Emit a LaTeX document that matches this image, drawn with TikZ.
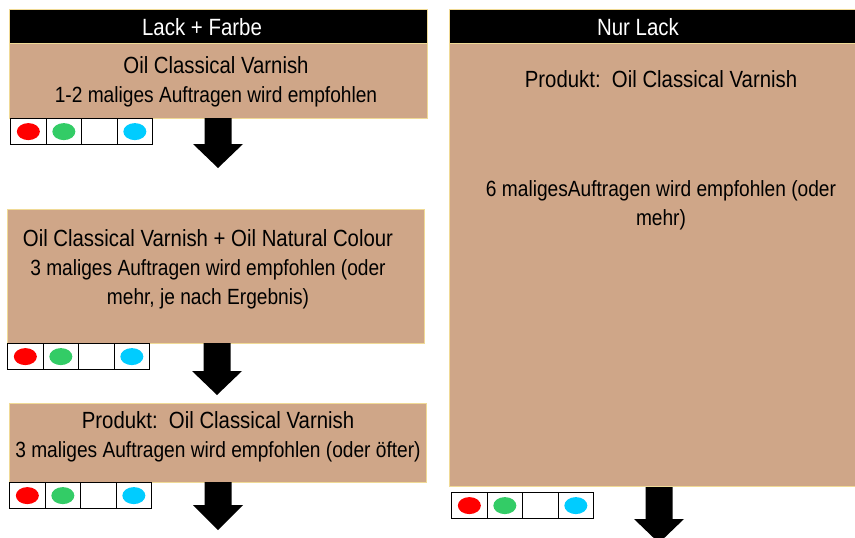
\documentclass[tikz,border=0pt]{standalone}
\usepackage{fontspec}
\setmainfont{Liberation Sans}[FakeStretch=0.87]
\usepackage{tikz}
\definecolor{hellbraun}{RGB}{207,166,136}
\definecolor{rand}{RGB}{240,218,150}
\definecolor{rot}{RGB}{255,0,0}
\definecolor{gruen}{RGB}{51,204,102}
\definecolor{blau}{RGB}{0,204,255}
\newcommand{\titelgr}{\fontsize{23.4}{29}\selectfont}

\begin{document}
\begin{tikzpicture}[x=1pt,y=-1pt,
	kopf/.style={fill=black,draw=rand,anchor=north west,inner sep=0pt},
	kopftext/.style={text=white,anchor=base,inner sep=0pt,font=\fontsize{23.5}{28}\selectfont},
	feld/.style={fill=hellbraun,draw=rand,line width=1.2pt,anchor=north west,inner sep=0pt},
	txt/.style={align=center,anchor=base,inner sep=0pt,font=\fontsize{22}{29}\selectfont},
	zelle/.style={draw=black,fill=white,line width=1.2pt,minimum width=35.5pt,minimum height=26pt,inner sep=0pt,anchor=north west}]
			\useasboundingbox (0,0) rectangle (855,538);
			
			%Kopfzeilen
			\node[kopf, minimum width=418pt, minimum height=34pt] (kopfL) at (9,9) {};
			\node[kopftext] (kopfLtext) at (202,35) {Lack + Farbe};
			\node[kopf, minimum width=415pt, minimum height=34pt] (kopfR) at (449,9) {};
			\node[kopftext] (kopfRtext) at (638,35) {Nur Lack};
			
			%Lack + Farbe (Anker = letzte Zeile)
			\node[feld, minimum width=418pt, minimum height=75pt] (feld1) at (9,43) {};
			\node[txt] (text1) at (216,102) {{\titelgr Oil Classical Varnish}\\1-2 maliges Auftragen wird empfohlen};
			
			\node[feld, minimum width=417pt, minimum height=134pt] (feld2) at (7,209) {};
			\node[txt] (text2) at (208,304) {{\titelgr Oil Classical Varnish + Oil Natural Colour}\\3 maliges Auftragen wird empfohlen (oder\\mehr, je nach Ergebnis)};
			
			\node[feld, minimum width=417pt, minimum height=79pt] (feld3) at (9,403) {};
			\node[txt] (text3) at (218,457) {{\titelgr Produkt:\ \ Oil Classical Varnish}\\3 maliges Auftragen wird empfohlen (oder öfter)};
			
			%Nur Lack
			\node[feld, minimum width=415pt, minimum height=443pt] (feld4) at (449,43) {};
			\node[txt] (text4a) at (661,87) {\titelgr Produkt:\ \ Oil Classical Varnish};
			\node[txt] (text4b) at (661,225) {6 maligesAuftragen wird empfohlen (oder\\mehr)};
			
			%Farbfelder
			\foreach \r/\x/\y in {1/10/118, 2/7/343, 3/9/482, 4/451/492}{
				\foreach \c in {0,1,2,3}
					\node[zelle] (z\r-\c) at (\x+35.5*\c,\y) {};
				\fill[rot] (z\r-0.center) ellipse (11.5 and 8.5);
				\fill[gruen] (z\r-1.center) ellipse (11.5 and 8.5);
				\fill[blau] (z\r-3.center) ellipse (11.5 and 8.5);
			}
			
			%Pfeile
			\foreach \n/\x/\a/\b/\e in {1/218/118/144/168, 2/217/343/371/395, 3/218/482/505/530, 4/659/487/519/543}{
				\coordinate (p\n) at (\x,\a);
				\fill (p\n) ++(-13.5,0) -- ++(27,0) |- (\x+25,\b) -- (\x,\e) -- (\x-25,\b) -| cycle;
			}
		\end{tikzpicture}
\end{document}
